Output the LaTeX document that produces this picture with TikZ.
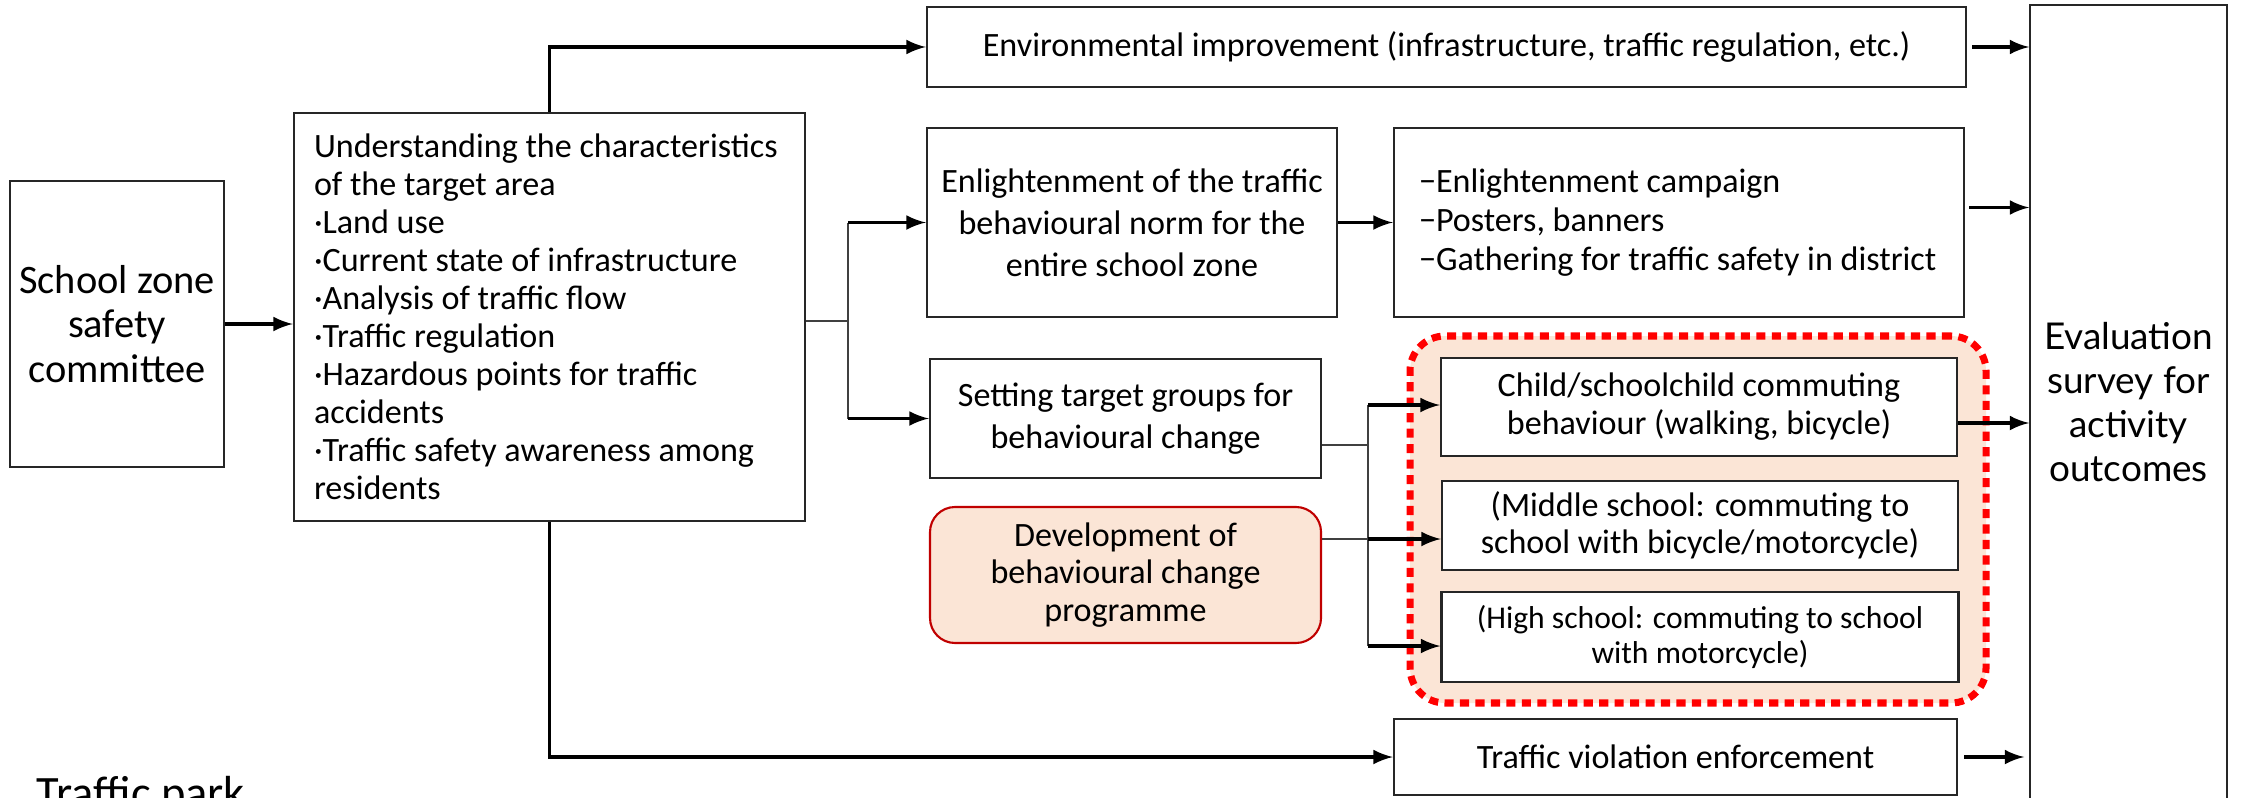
\documentclass[tikz,border=0pt]{standalone}
\usepackage{fontspec}
\setmainfont{Carlito}
\newfontfamily\latofont{Lato}
\usepackage{tikz}
\usetikzlibrary{arrows,positioning,calc}
\definecolor{peach}{HTML}{FBE5D6}
\definecolor{darkred}{HTML}{C00000}

\begin{document}
\begin{tikzpicture}[
  box/.style={draw=black!85, line width=0.7pt, align=center, inner sep=2pt,
    font=\fontsize{9.7}{11.6}\selectfont},
  conn/.style={-latex, line width=0.9pt},
  thin/.style={draw=black!75, line width=0.5pt},
  group/.style={draw=red, fill=peach, line width=2pt, dash pattern=on 2.6pt off 1.8pt,
    rounded corners=0.35cm},
  devbox/.style={box, draw=darkred, fill=peach, line width=0.6pt, rounded corners=0.25cm}
]
\useasboundingbox (0,0) rectangle (22.41,-7.97);

\node[group, minimum width=5.76cm, minimum height=3.67cm] (grp) at (16.98,-5.195) {};

\node[box, minimum width=2.14cm, minimum height=2.86cm, font=\fontsize{11.5}{12.6}\selectfont]
  (committee) at (1.17,-3.24) {School zone\\safety\\committee};
\node[box, align=flush left, text width=4.71cm, inner xsep=0.2cm, minimum height=4.08cm,
  font=\fontsize{9.7}{10.8}\selectfont] (understanding) at (5.495,-3.17)
  {Understanding the characteristics\\of the target area\\
   \textperiodcentered Land use\\
   \textperiodcentered Current state of infrastructure\\
   \textperiodcentered Analysis of traffic flow\\
   \textperiodcentered Traffic regulation\\
   \textperiodcentered Hazardous points for traffic\\accidents\\
   \textperiodcentered Traffic safety awareness among\\residents};

\node[box, minimum width=10.39cm, minimum height=0.80cm] (env) at (14.465,-0.47)
  {Environmental improvement (infrastructure, traffic regulation, etc.)};
\node[box, minimum width=4.10cm, minimum height=1.89cm, font=\fontsize{9.7}{12}\selectfont]
  (enlight) at (11.32,-2.225) {Enlightenment of the traffic\\behavioural norm for the\\entire school zone};
\node[box, align=flush left, text width=5.2cm, inner xsep=0.25cm, minimum height=1.89cm,
  font=\fontsize{9.7}{11}\selectfont] (campaign) at (16.79,-2.225)
  {\char"2212 Enlightenment campaign\\\char"2212 Posters, banners\\\char"2212 Gathering for traffic safety in district};

\node[box, minimum width=3.91cm, minimum height=1.19cm, font=\fontsize{9.7}{11.9}\selectfont]
  (setting) at (11.255,-4.185) {Setting target groups for\\behavioural change};
\node[devbox, minimum width=3.91cm, minimum height=1.36cm, font=\fontsize{9.7}{10.6}\selectfont]
  (development) at (11.255,-5.75) {Development of\\behavioural change\\programme};

\node[box, fill=white, minimum width=5.16cm, minimum height=0.98cm, font=\fontsize{9.7}{10.8}\selectfont]
  (child) at (16.99,-4.07) {Child/schoolchild commuting\\behaviour (walking, bicycle)};
\node[box, fill=white, minimum width=5.16cm, minimum height=0.89cm, font=\fontsize{9.7}{10.5}\selectfont]
  (middle) at (17.0,-5.255) {(Middle school: commuting to\\school with bicycle/motorcycle)};
\node[box, fill=white, minimum width=5.17cm, minimum height=0.90cm, font=\fontsize{9}{9.7}\selectfont]
  (high) at (17.0,-6.37) {(High school: commuting to school\\with motorcycle)};

\node[box, minimum width=5.63cm, minimum height=0.76cm] (violation) at (16.755,-7.57)
  {Traffic violation enforcement};
\node[box, minimum width=1.97cm, minimum height=7.94cm, line width=0.5pt,
  font=\latofont\fontsize{10.5}{12.6}\selectfont] (evaluation) at (21.285,-4.02)
  {Evaluation\\survey for\\activity\\outcomes};

\node[anchor=base west, inner sep=0pt, font=\fontsize{13.2}{15}\selectfont] (park) at (0.36,-8.08) {Traffic park};

\draw[conn] (committee.east) -- (committee.east -| understanding.west);
\draw[conn] (understanding.north) |- (env);
\draw[conn] (understanding.south) |- (violation);

\coordinate (fork) at (8.48,-3.21);
\draw[thin] (understanding.east |- fork) -- (fork);
\draw[thin] (fork |- enlight) -- (fork |- setting);
\draw[conn] (fork |- enlight) -- (enlight);
\draw[conn] (fork |- setting) -- (setting);
\draw[conn] (enlight) -- (enlight -| campaign.west);

\coordinate (toChild) at (13.68,-4.05);
\coordinate (toMid) at (13.68,-5.39);
\coordinate (toHigh) at (13.68,-6.46);
\draw[thin] (setting.east |- 0,-4.45) -- (13.68,-4.45);
\draw[thin] (development.east |- toMid) -- (toMid);
\draw[thin] (toChild) -- (toHigh);
\draw[conn] (toChild) -- (toChild -| child.west);
\draw[conn] (toMid) -- (toMid -| middle.west);
\draw[conn] (toHigh) -- (toHigh -| high.west);

\draw[conn] ([xshift=0.5mm]env.east) -- (env.east -| evaluation.west);
\draw[conn] ([shift={(0.4mm,1.5mm)}]campaign.east) -- ([yshift=1.5mm]campaign.east -| evaluation.west);
\draw[conn] ([yshift=-1.6mm]child.east) -- ([yshift=-1.6mm]child.east -| evaluation.west);
\draw[conn] ([xshift=0.6mm]violation.east) -- ([xshift=-0.5mm]violation.east -| evaluation.west);
\end{tikzpicture}
\end{document}
